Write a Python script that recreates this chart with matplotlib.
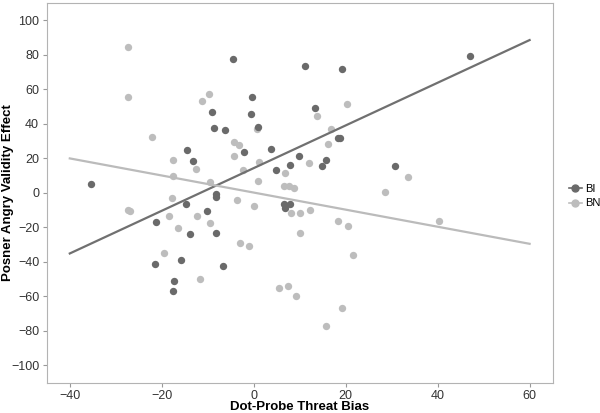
import numpy as np
from matplotlib import pyplot as plt
from matplotlib.lines import Line2D

plt.rcParams['font.family'] = ['Liberation Sans', 'DejaVu Sans']

# BI group (dark points)
bi_x = [-35.4, -4.6, -0.35, -0.5, -9.0, -8.6, -6.2, 0.95, -14.6, -13.2,
        -2.1, 3.7, 4.9, 7.8, 9.8, -8.3, -8.3, -14.7, -10.1, 6.5,
        7.8, 6.7, 11.1, 19.3, 47.0, 13.4, 18.3, 18.7, 15.7, 14.8,
        30.8, -21.3, -13.8, -8.2, -21.4, -15.9, -6.7, -17.3, -17.6]
bi_y = [5.0, 77.8, 55.8, 46.0, 46.8, 37.9, 36.2, 38.3, 25.0, 18.7,
        24.0, 25.6, 13.1, 16.4, 21.2, -0.6, -2.5, -6.5, -10.3, -6.2,
        -6.2, -8.7, 73.8, 71.8, 79.6, 49.3, 31.8, 32.0, 19.1, 15.4,
        15.8, -16.8, -24.1, -23.0, -41.4, -39.1, -42.6, -51.3, -56.6]

# BN group (light points)
bn_x = [-27.3, -27.3, -22.2, -11.3, -9.8, -17.6, -17.6, -12.6, -9.4, -4.3,
        -3.3, -4.3, -2.4, 1.1, 0.95, 0.8, 6.7, 6.5, 7.7, 8.8,
        -17.7, -3.7, 0.1, -27.3, -26.8, 20.2, 13.8, 16.7, 16.2, 12.0,
        33.5, 28.6, 12.3, 8.1, 10.1, 18.3, 20.4, 10.1, 21.7, 40.2,
        7.4, 5.6, 9.3, 19.1, 15.7, -18.5, -12.4, -9.4, -16.5, -19.6,
        -11.7, -2.9, -1.1]
bn_y = [84.7, 55.5, 32.5, 53.5, 57.6, 18.8, 9.6, 14.0, 6.3, 29.5,
        27.9, 21.4, 13.5, 18.0, 7.1, 36.8, 11.6, 4.2, 3.8, 2.7,
        -3.2, -4.0, -7.5, -9.7, -10.6, 51.8, 44.7, 36.8, 28.3, 17.5,
        9.1, 0.3, -10.0, -11.8, -11.8, -16.2, -19.3, -23.5, -36.1, -16.3,
        -54.0, -55.4, -59.5, -66.9, -76.9, -13.5, -13.5, -17.3, -20.4, -34.8,
        -50.0, -29.1, -30.5]

# fitted lines (endpoints)
fit_x = [-40, 60]
bi_fit = [-35.1, 88.6]
bn_fit = [20.0, -29.5]

bi_color = '#6a6a6a'
bn_color = '#bdbdbd'

fig = plt.figure(figsize=(6, 4.13), dpi=100)
ax = fig.add_axes([0.078, 0.0734, 0.843, 0.919])

ax.plot(fit_x, bi_fit, color='#707070', linewidth=1.6, zorder=3)
ax.plot(fit_x, bn_fit, color='#bbbbbb', linewidth=1.6, zorder=3)
ax.scatter(bn_x, bn_y, s=28, color=bn_color, linewidths=0, zorder=2)
ax.scatter(bi_x, bi_y, s=28, color=bi_color, linewidths=0, zorder=2)

ax.set_xlim(-45, 65)
ax.set_ylim(-110, 110)
ax.set_xticks([-40, -20, 0, 20, 40, 60])
ax.set_yticks(np.arange(-100, 101, 20))

for s in ax.spines.values():
    s.set_color('#b3b3b3')
    s.set_linewidth(0.8)
ax.tick_params(colors='#999999', labelcolor='#333333', labelsize=9, length=3, width=0.8)
ax.tick_params(axis='x', pad=2)
ax.tick_params(axis='y', pad=2.5)

ax.set_xlabel('Dot-Probe Threat Bias', fontsize=9.5, fontweight='bold', va='center')
ax.set_ylabel('Posner Angry Validity Effect', fontsize=9.5, fontweight='bold', va='center')
ax.xaxis.set_label_coords(0.5, -0.064)
ax.yaxis.set_label_coords(-0.077, 0.5)

handles = [Line2D([], [], color=bi_color, marker='o', markersize=5, linewidth=1.2),
           Line2D([], [], color=bn_color, marker='o', markersize=5, linewidth=1.2)]
fig.legend(handles, ['BI', 'BN'], loc='center left', bbox_to_anchor=(0.935, 0.525),
           frameon=False, fontsize=8, handlelength=1.2, handletextpad=0.3,
           labelspacing=0.4, borderpad=0.2)

plt.savefig('out.png', dpi=100)
